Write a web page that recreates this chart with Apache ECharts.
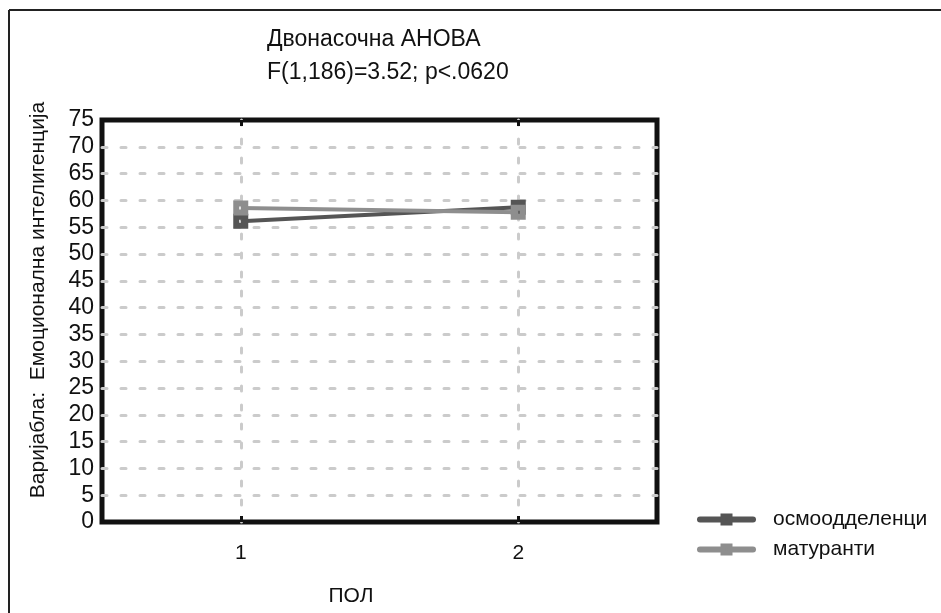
<!DOCTYPE html>
<html>
<head>
<meta charset="utf-8">
<script src="https://cdn.jsdelivr.net/npm/echarts@6/dist/echarts.min.js"></script>
<style>
  html, body { margin: 0; padding: 0; background: #fff; }
  #chart { width: 941px; height: 613px; }
</style>
</head>
<body>
<div id="chart"></div>
<script>
// ПОЛ categories and group means of emotional intelligence
const categories = ['1', '2'];
const seriesNames = ['осмоодделенци', 'матуранти'];
const osmooddelenci = [56.1, 58.7];
const maturanti = [58.6, 57.8];
const titleLines = ['Двонасочна АНОВА', 'F(1,186)=3.52; p<.0620'];
const yAxisTitle = 'Варијабла:  Емоционална интелигенција';
const xAxisTitle = 'ПОЛ';

const FONT = '"Liberation Sans", Arial, sans-serif';
const darkGray = '#555555';
const lightGray = '#8e8e8e';
// square marker with a small open centre
const markerPath = 'path://M0,0H10V10H0Z M4,4V6H6V4Z';

const chart = echarts.init(document.getElementById('chart'), null, { renderer: 'canvas' });

const gridDots = { type: [5, 14], width: 3, color: '#cbcbcb', cap: 'round' };

chart.setOption({
  animation: false,
  backgroundColor: '#ffffff',
  grid: {
    left: 102, right: 284, top: 120, bottom: 91,
    show: true, borderColor: '#111', borderWidth: 5, backgroundColor: 'transparent'
  },
  graphic: [
    { type: 'line', shape: { x1: 9, y1: 10, x2: 9, y2: 613 }, style: { stroke: '#222', lineWidth: 2 } },
    { type: 'line', shape: { x1: 9, y1: 10, x2: 941, y2: 10 }, style: { stroke: '#222', lineWidth: 2 } },
    { type: 'text', left: 267, top: 28, style: { text: titleLines[0], font: '23px ' + FONT, fill: '#111' } },
    { type: 'text', left: 267, top: 61, style: { text: titleLines[1], font: '23px ' + FONT, fill: '#111' } },
    {
      type: 'text', x: 38, y: 300, rotation: Math.PI / 2,
      style: { text: yAxisTitle, font: '21px ' + FONT, fill: '#111', align: 'center', verticalAlign: 'middle' }
    },
    {
      type: 'text', x: 351, y: 596,
      style: { text: xAxisTitle, font: '21px ' + FONT, fill: '#111', align: 'center', verticalAlign: 'middle' }
    }
  ],
  legend: {
    orient: 'vertical', left: 692, top: 504,
    itemWidth: 53, itemHeight: 15, itemGap: 9,
    lineStyle: { width: 6, cap: 'round' },
    textStyle: { fontFamily: FONT, fontSize: 21, color: '#111', padding: [0, 0, 0, 15] },
    data: seriesNames
  },
  xAxis: [
    {
      type: 'category', data: categories, boundaryGap: true, position: 'bottom',
      axisLine: { show: false },
      axisTick: { show: true, inside: true, alignWithLabel: true, length: 6, lineStyle: { color: '#111', width: 3 } },
      axisLabel: { fontFamily: FONT, fontSize: 21, color: '#111', margin: 21 },
      splitLine: { show: true, alignWithLabel: true, lineStyle: gridDots }
    },
    {
      type: 'category', data: categories, boundaryGap: true, position: 'top',
      axisLine: { show: false },
      axisTick: { show: true, inside: true, alignWithLabel: true, length: 6, lineStyle: { color: '#111', width: 3 } },
      axisLabel: { show: false },
      splitLine: { show: false }
    }
  ],
  yAxis: {
    type: 'value', min: 0, max: 75, interval: 5,
    axisLine: { show: false },
    axisTick: { show: false },
    axisLabel: { fontFamily: FONT, fontSize: 23, color: '#111', margin: 8 },
    splitLine: { show: true, showMinLine: false, showMaxLine: false, lineStyle: gridDots }
  },
  series: [
    {
      name: seriesNames[0], type: 'line', data: osmooddelenci,
      symbol: markerPath, symbolSize: 15, z: 3,
      lineStyle: { color: darkGray, width: 4 },
      itemStyle: { color: darkGray }
    },
    {
      name: seriesNames[1], type: 'line', data: maturanti,
      symbol: markerPath, symbolSize: 15, z: 4,
      lineStyle: { color: lightGray, width: 4 },
      itemStyle: { color: lightGray }
    }
  ]
});
</script>
</body>
</html>
